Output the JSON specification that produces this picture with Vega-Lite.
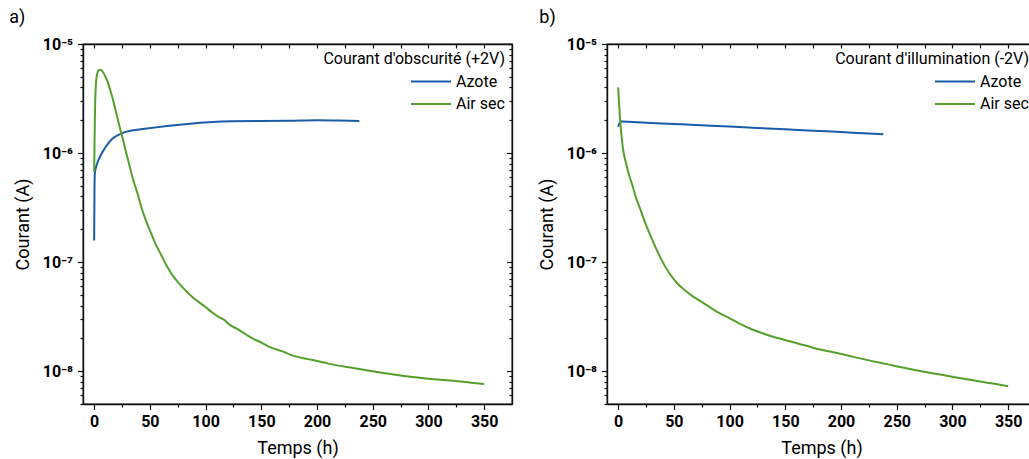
{
  "$schema": "https://vega.github.io/schema/vega-lite/v6.json",
  "padding": {"left": 8, "top": 8, "right": 0, "bottom": 0},
  "background": "white",
  "datasets": {
    "dark": [
      {"t": 0, "I": 1.58e-7, "gaz": "Azote"},
      {"t": 0.3, "I": 4.5e-7, "gaz": "Azote"},
      {"t": 0.6, "I": 6.5e-7, "gaz": "Azote"},
      {"t": 2, "I": 7.6e-7, "gaz": "Azote"},
      {"t": 4.4, "I": 8.9e-7, "gaz": "Azote"},
      {"t": 7, "I": 1.0e-6, "gaz": "Azote"},
      {"t": 10.3, "I": 1.135e-6, "gaz": "Azote"},
      {"t": 16.3, "I": 1.35e-6, "gaz": "Azote"},
      {"t": 25, "I": 1.52e-6, "gaz": "Azote"},
      {"t": 37, "I": 1.63e-6, "gaz": "Azote"},
      {"t": 49, "I": 1.69e-6, "gaz": "Azote"},
      {"t": 79, "I": 1.83e-6, "gaz": "Azote"},
      {"t": 103, "I": 1.92e-6, "gaz": "Azote"},
      {"t": 124, "I": 1.96e-6, "gaz": "Azote"},
      {"t": 150, "I": 1.97e-6, "gaz": "Azote"},
      {"t": 175, "I": 1.98e-6, "gaz": "Azote"},
      {"t": 200, "I": 2.0e-6, "gaz": "Azote"},
      {"t": 220, "I": 1.99e-6, "gaz": "Azote"},
      {"t": 238, "I": 1.97e-6, "gaz": "Azote"},
      {"t": 0, "I": 6.7e-7, "gaz": "Air sec"},
      {"t": 0.7, "I": 2.2e-6, "gaz": "Air sec"},
      {"t": 1.4, "I": 4.0e-6, "gaz": "Air sec"},
      {"t": 2.5, "I": 5.2e-6, "gaz": "Air sec"},
      {"t": 4, "I": 5.75e-6, "gaz": "Air sec"},
      {"t": 5, "I": 5.82e-6, "gaz": "Air sec"},
      {"t": 6.5, "I": 5.75e-6, "gaz": "Air sec"},
      {"t": 8, "I": 5.5e-6, "gaz": "Air sec"},
      {"t": 10, "I": 5.05e-6, "gaz": "Air sec"},
      {"t": 11.8, "I": 4.6e-6, "gaz": "Air sec"},
      {"t": 14, "I": 3.9e-6, "gaz": "Air sec"},
      {"t": 16.3, "I": 3.25e-6, "gaz": "Air sec"},
      {"t": 18.5, "I": 2.65e-6, "gaz": "Air sec"},
      {"t": 20.8, "I": 2.13e-6, "gaz": "Air sec"},
      {"t": 23, "I": 1.72e-6, "gaz": "Air sec"},
      {"t": 25.3, "I": 1.4e-6, "gaz": "Air sec"},
      {"t": 28, "I": 1.08e-6, "gaz": "Air sec"},
      {"t": 31.3, "I": 7.98e-7, "gaz": "Air sec"},
      {"t": 35, "I": 5.7e-7, "gaz": "Air sec"},
      {"t": 38.8, "I": 4.3e-7, "gaz": "Air sec"},
      {"t": 42.5, "I": 3.15e-7, "gaz": "Air sec"},
      {"t": 46.2, "I": 2.45e-7, "gaz": "Air sec"},
      {"t": 50, "I": 1.95e-7, "gaz": "Air sec"},
      {"t": 55, "I": 1.48e-7, "gaz": "Air sec"},
      {"t": 61.2, "I": 1.11e-7, "gaz": "Air sec"},
      {"t": 65, "I": 9.3e-8, "gaz": "Air sec"},
      {"t": 70.2, "I": 7.6e-8, "gaz": "Air sec"},
      {"t": 75, "I": 6.6e-8, "gaz": "Air sec"},
      {"t": 79.2, "I": 5.9e-8, "gaz": "Air sec"},
      {"t": 88.1, "I": 4.78e-8, "gaz": "Air sec"},
      {"t": 100, "I": 3.87e-8, "gaz": "Air sec"},
      {"t": 106, "I": 3.45e-8, "gaz": "Air sec"},
      {"t": 112, "I": 3.13e-8, "gaz": "Air sec"},
      {"t": 117, "I": 2.95e-8, "gaz": "Air sec"},
      {"t": 121, "I": 2.69e-8, "gaz": "Air sec"},
      {"t": 128, "I": 2.45e-8, "gaz": "Air sec"},
      {"t": 136, "I": 2.18e-8, "gaz": "Air sec"},
      {"t": 143, "I": 1.98e-8, "gaz": "Air sec"},
      {"t": 151, "I": 1.81e-8, "gaz": "Air sec"},
      {"t": 158, "I": 1.66e-8, "gaz": "Air sec"},
      {"t": 169, "I": 1.52e-8, "gaz": "Air sec"},
      {"t": 179, "I": 1.38e-8, "gaz": "Air sec"},
      {"t": 192, "I": 1.29e-8, "gaz": "Air sec"},
      {"t": 206, "I": 1.2e-8, "gaz": "Air sec"},
      {"t": 218, "I": 1.13e-8, "gaz": "Air sec"},
      {"t": 230, "I": 1.08e-8, "gaz": "Air sec"},
      {"t": 242, "I": 1.03e-8, "gaz": "Air sec"},
      {"t": 254, "I": 9.84e-9, "gaz": "Air sec"},
      {"t": 266, "I": 9.4e-9, "gaz": "Air sec"},
      {"t": 278, "I": 9.04e-9, "gaz": "Air sec"},
      {"t": 290, "I": 8.75e-9, "gaz": "Air sec"},
      {"t": 302, "I": 8.49e-9, "gaz": "Air sec"},
      {"t": 314, "I": 8.28e-9, "gaz": "Air sec"},
      {"t": 326, "I": 8.09e-9, "gaz": "Air sec"},
      {"t": 338, "I": 7.85e-9, "gaz": "Air sec"},
      {"t": 350, "I": 7.64e-9, "gaz": "Air sec"}
    ],
    "illum": [
      {"t": 0, "I": 1.75e-6, "gaz": "Azote"},
      {"t": 1, "I": 1.85e-6, "gaz": "Azote"},
      {"t": 2, "I": 1.93e-6, "gaz": "Azote"},
      {"t": 3, "I": 1.95e-6, "gaz": "Azote"},
      {"t": 25, "I": 1.9e-6, "gaz": "Azote"},
      {"t": 50, "I": 1.85e-6, "gaz": "Azote"},
      {"t": 75, "I": 1.8e-6, "gaz": "Azote"},
      {"t": 100, "I": 1.75e-6, "gaz": "Azote"},
      {"t": 125, "I": 1.7e-6, "gaz": "Azote"},
      {"t": 150, "I": 1.65e-6, "gaz": "Azote"},
      {"t": 175, "I": 1.6e-6, "gaz": "Azote"},
      {"t": 200, "I": 1.56e-6, "gaz": "Azote"},
      {"t": 220, "I": 1.52e-6, "gaz": "Azote"},
      {"t": 238, "I": 1.49e-6, "gaz": "Azote"},
      {"t": 0, "I": 4.0e-6, "gaz": "Air sec"},
      {"t": 0.8, "I": 2.9e-6, "gaz": "Air sec"},
      {"t": 1.8, "I": 1.99e-6, "gaz": "Air sec"},
      {"t": 3, "I": 1.45e-6, "gaz": "Air sec"},
      {"t": 4.2, "I": 1.13e-6, "gaz": "Air sec"},
      {"t": 5.5, "I": 9.4e-7, "gaz": "Air sec"},
      {"t": 7.2, "I": 7.98e-7, "gaz": "Air sec"},
      {"t": 10, "I": 6.2e-7, "gaz": "Air sec"},
      {"t": 13.2, "I": 4.89e-7, "gaz": "Air sec"},
      {"t": 16, "I": 3.9e-7, "gaz": "Air sec"},
      {"t": 19.1, "I": 3.21e-7, "gaz": "Air sec"},
      {"t": 22, "I": 2.65e-7, "gaz": "Air sec"},
      {"t": 25.1, "I": 2.18e-7, "gaz": "Air sec"},
      {"t": 29, "I": 1.75e-7, "gaz": "Air sec"},
      {"t": 34.1, "I": 1.33e-7, "gaz": "Air sec"},
      {"t": 40, "I": 1.0e-7, "gaz": "Air sec"},
      {"t": 46.1, "I": 7.87e-8, "gaz": "Air sec"},
      {"t": 53, "I": 6.4e-8, "gaz": "Air sec"},
      {"t": 61, "I": 5.4e-8, "gaz": "Air sec"},
      {"t": 67, "I": 4.85e-8, "gaz": "Air sec"},
      {"t": 76, "I": 4.25e-8, "gaz": "Air sec"},
      {"t": 88.5, "I": 3.52e-8, "gaz": "Air sec"},
      {"t": 100, "I": 3.05e-8, "gaz": "Air sec"},
      {"t": 109.4, "I": 2.72e-8, "gaz": "Air sec"},
      {"t": 121, "I": 2.4e-8, "gaz": "Air sec"},
      {"t": 133.4, "I": 2.16e-8, "gaz": "Air sec"},
      {"t": 145, "I": 1.99e-8, "gaz": "Air sec"},
      {"t": 157.3, "I": 1.84e-8, "gaz": "Air sec"},
      {"t": 169, "I": 1.71e-8, "gaz": "Air sec"},
      {"t": 181.3, "I": 1.58e-8, "gaz": "Air sec"},
      {"t": 193, "I": 1.49e-8, "gaz": "Air sec"},
      {"t": 205.2, "I": 1.4e-8, "gaz": "Air sec"},
      {"t": 217, "I": 1.31e-8, "gaz": "Air sec"},
      {"t": 229, "I": 1.23e-8, "gaz": "Air sec"},
      {"t": 241, "I": 1.16e-8, "gaz": "Air sec"},
      {"t": 253, "I": 1.09e-8, "gaz": "Air sec"},
      {"t": 265, "I": 1.03e-8, "gaz": "Air sec"},
      {"t": 277, "I": 9.77e-9, "gaz": "Air sec"},
      {"t": 289, "I": 9.3e-9, "gaz": "Air sec"},
      {"t": 301, "I": 8.85e-9, "gaz": "Air sec"},
      {"t": 313, "I": 8.43e-9, "gaz": "Air sec"},
      {"t": 325, "I": 8.03e-9, "gaz": "Air sec"},
      {"t": 338, "I": 7.65e-9, "gaz": "Air sec"},
      {"t": 350, "I": 7.28e-9, "gaz": "Air sec"}
    ]
  },
  "hconcat": [
    {
      "data": {"name": "dark"},
      "width": 429,
      "height": 360,
      "title": {"text": "a)", "anchor": "start", "frame": "bounds", "dx": -5, "offset": 9},
      "layer": [
        {
          "mark": {"type": "line", "strokeWidth": 2, "clip": true, "interpolate": "monotone"},
          "encoding": {
            "x": {"field": "t", "type": "quantitative", "scale": {"domain": [-10, 375], "nice": false, "zero": false},
              "axis": {"orient": "bottom", "title": "Temps (h)", "values": [0,25,50,75,100,125,150,175,200,225,250,275,300,325,350],
                "labelExpr": "datum.value % 50 === 0 ? datum.label : ''",
                "tickSize": {"condition": {"test": "datum.value % 50 === 0", "value": 5.5}, "value": 3}}},
            "y": {"field": "I", "type": "quantitative", "scale": {"type": "log", "domain": [5e-9, 1e-5], "nice": false},
              "axis": {"orient": "left", "title": "Courant (A)",
                "values": [5e-9,6e-9,7e-9,8e-9,9e-9,1e-8,2e-8,3e-8,4e-8,5e-8,6e-8,7e-8,8e-8,9e-8,1e-7,2e-7,3e-7,4e-7,5e-7,6e-7,7e-7,8e-7,9e-7,1e-6,2e-6,3e-6,4e-6,5e-6,6e-6,7e-6,8e-6,9e-6,1e-5],
                "labelExpr": "abs(log(datum.value)/LN10 - round(log(datum.value)/LN10)) < 0.001 ? '10⁻' + ['⁰','¹','²','³','⁴','⁵','⁶','⁷','⁸','⁹'][abs(round(log(datum.value)/LN10))] : ''",
                "tickSize": {"condition": {"test": "abs(log(datum.value)/LN10 - round(log(datum.value)/LN10)) < 0.001", "value": 5.5}, "value": 3}}},
            "color": {"field": "gaz", "type": "nominal", "scale": {"domain": ["Azote", "Air sec"], "range": ["#1a5ca8", "#55a02d"]},
              "legend": {"title": "Courant d'obscurité (+2V)"}}
          }
        },
        {
          "mark": {"type": "line", "opacity": 0, "clip": true},
          "encoding": {
            "x": {"field": "t", "type": "quantitative", "scale": {"domain": [-10, 375], "nice": false, "zero": false},
              "axis": {"orient": "top", "title": null, "labels": false, "values": [0,25,50,75,100,125,150,175,200,225,250,275,300,325,350], "tickSize": -4}},
            "y": {"field": "I", "type": "quantitative", "scale": {"type": "log", "domain": [5e-9, 1e-5], "nice": false},
              "axis": {"orient": "right", "title": null, "labels": false,
                "values": [5e-9,6e-9,7e-9,8e-9,9e-9,1e-8,2e-8,3e-8,4e-8,5e-8,6e-8,7e-8,8e-8,9e-8,1e-7,2e-7,3e-7,4e-7,5e-7,6e-7,7e-7,8e-7,9e-7,1e-6,2e-6,3e-6,4e-6,5e-6,6e-6,7e-6,8e-6,9e-6,1e-5],
                "tickSize": {"condition": {"test": "abs(log(datum.value)/LN10 - round(log(datum.value)/LN10)) < 0.001", "value": -5.5}, "value": -3}}},
            "detail": {"field": "gaz"}
          }
        }
      ],
      "resolve": {"axis": {"x": "independent", "y": "independent"}}
    },
    {
      "data": {"name": "illum"},
      "width": 429,
      "height": 360,
      "title": {"text": "b)", "anchor": "start", "frame": "bounds", "dx": 1, "offset": 9},
      "layer": [
        {
          "mark": {"type": "line", "strokeWidth": 2, "clip": true, "interpolate": "monotone"},
          "encoding": {
            "x": {"field": "t", "type": "quantitative", "scale": {"domain": [-10, 375], "nice": false, "zero": false},
              "axis": {"orient": "bottom", "title": "Temps (h)", "values": [0,25,50,75,100,125,150,175,200,225,250,275,300,325,350],
                "labelExpr": "datum.value % 50 === 0 ? datum.label : ''",
                "tickSize": {"condition": {"test": "datum.value % 50 === 0", "value": 5.5}, "value": 3}}},
            "y": {"field": "I", "type": "quantitative", "scale": {"type": "log", "domain": [5e-9, 1e-5], "nice": false},
              "axis": {"orient": "left", "title": "Courant (A)",
                "values": [5e-9,6e-9,7e-9,8e-9,9e-9,1e-8,2e-8,3e-8,4e-8,5e-8,6e-8,7e-8,8e-8,9e-8,1e-7,2e-7,3e-7,4e-7,5e-7,6e-7,7e-7,8e-7,9e-7,1e-6,2e-6,3e-6,4e-6,5e-6,6e-6,7e-6,8e-6,9e-6,1e-5],
                "labelExpr": "abs(log(datum.value)/LN10 - round(log(datum.value)/LN10)) < 0.001 ? '10⁻' + ['⁰','¹','²','³','⁴','⁵','⁶','⁷','⁸','⁹'][abs(round(log(datum.value)/LN10))] : ''",
                "tickSize": {"condition": {"test": "abs(log(datum.value)/LN10 - round(log(datum.value)/LN10)) < 0.001", "value": 5.5}, "value": 3}}},
            "color": {"field": "gaz", "type": "nominal", "scale": {"domain": ["Azote", "Air sec"], "range": ["#1a5ca8", "#55a02d"]},
              "legend": {"title": "Courant d'illumination (-2V)"}}
          }
        },
        {
          "mark": {"type": "line", "opacity": 0, "clip": true},
          "encoding": {
            "x": {"field": "t", "type": "quantitative", "scale": {"domain": [-10, 375], "nice": false, "zero": false},
              "axis": {"orient": "top", "title": null, "labels": false, "values": [0,25,50,75,100,125,150,175,200,225,250,275,300,325,350], "tickSize": -4}},
            "y": {"field": "I", "type": "quantitative", "scale": {"type": "log", "domain": [5e-9, 1e-5], "nice": false},
              "axis": {"orient": "right", "title": null, "labels": false,
                "values": [5e-9,6e-9,7e-9,8e-9,9e-9,1e-8,2e-8,3e-8,4e-8,5e-8,6e-8,7e-8,8e-8,9e-8,1e-7,2e-7,3e-7,4e-7,5e-7,6e-7,7e-7,8e-7,9e-7,1e-6,2e-6,3e-6,4e-6,5e-6,6e-6,7e-6,8e-6,9e-6,1e-5],
                "tickSize": {"condition": {"test": "abs(log(datum.value)/LN10 - round(log(datum.value)/LN10)) < 0.001", "value": -5.5}, "value": -3}}},
            "detail": {"field": "gaz"}
          }
        }
      ],
      "resolve": {"axis": {"x": "independent", "y": "independent"}}
    }
  ],
  "spacing": 95,
  "bounds": "flush",
  "resolve": {"scale": {"color": "independent"}, "legend": {"color": "independent"}},
  "config": {
    "view": {"stroke": "#111111", "strokeWidth": 1.3},
    "font": "Roboto",
    "title": {"font": "Roboto", "fontSize": 18, "fontWeight": "normal", "color": "black"},
    "axis": {
      "grid": false,
      "domainColor": "#111111",
      "domainWidth": 1.4,
      "tickColor": "#111111",
      "tickWidth": 1.2,
      "labelFont": "Roboto",
      "labelFontWeight": "bold",
      "labelFontSize": 16,
      "labelColor": "black",
      "labelFlush": false,
      "labelOverlap": false,
      "titleFont": "Roboto",
      "titleFontSize": 18,
      "titleFontWeight": "normal",
      "titleColor": "black"
    },
    "axisX": {"titlePadding": 10, "labelPadding": 4},
    "axisY": {"titlePadding": 10, "labelPadding": 5},
    "legend": {
      "orient": "top-right",
      "offset": 7,
      "titleFont": "Roboto",
      "titleFontSize": 16,
      "titleFontWeight": "normal",
      "titleColor": "black",
      "titleAnchor": "end",
      "titleLimit": 400,
      "labelLimit": 200,
      "titlePadding": 6,
      "columnPadding": 0,
      "labelFont": "Roboto",
      "labelFontSize": 16,
      "labelColor": "black",
      "symbolType": "stroke",
      "symbolSize": 1600,
      "symbolStrokeWidth": 2,
      "clipHeight": 17,
      "rowPadding": 5.5
    }
  }
}
